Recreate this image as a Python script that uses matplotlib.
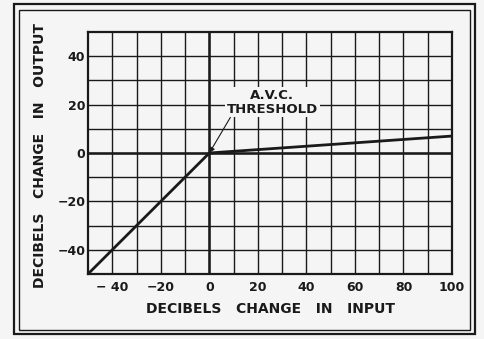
import matplotlib
matplotlib.use("Agg")
import matplotlib.pyplot as plt
from matplotlib.patches import Rectangle
import numpy as np

# Output response of an A.V.C. system (dB change in output vs dB change in input)
input_db = [-50, 0, 100]
output_db = [-50, 0, 7]

x_ticks = [-40, -20, 0, 20, 40, 60, 80, 100]
x_tick_labels = ["\u2212 40", "\u221220", "0", "20", "40", "60", "80", "100"]
y_ticks = [-40, -20, 0, 20, 40]
y_tick_labels = ["\u221240", "\u221220", "0", "20", "40"]

threshold_point = (0, 0)
threshold_text = "A.V.C.\nTHRESHOLD"

bg = "#f5f5f5"
ink = "#1a1a1a"
plt.rcParams["font.family"] = ["DejaVu Sans"]
plt.rcParams["font.weight"] = "bold"

fig = plt.figure(figsize=(4.85, 3.39), dpi=100, facecolor=bg)
ax = fig.add_axes([88 / 485, 1 - 274 / 339, 364 / 485, 242 / 339])
ax.set_facecolor(bg)

ax.set_xlim(-50, 100)
ax.set_ylim(-50, 50)

# grid every 10 dB
for gx in np.arange(-40, 100, 10):
    ax.axvline(gx, color=ink, lw=1.0, zorder=1)
for gy in np.arange(-40, 50, 10):
    ax.axhline(gy, color=ink, lw=1.0, zorder=1)
ax.axvline(0, color=ink, lw=1.8, zorder=2)
ax.axhline(0, color=ink, lw=1.8, zorder=2)

for s in ax.spines.values():
    s.set_color(ink)
    s.set_linewidth(1.6)

ax.plot(input_db, output_db, color=ink, lw=2.0, zorder=3, solid_capstyle="butt")

ax.annotate(threshold_text, xy=threshold_point, xytext=(26, 21),
            ha="center", va="center", fontsize=9.5, fontweight="bold",
            color=ink, linespacing=1.1,
            bbox=dict(boxstyle="square,pad=0.12", fc=bg, ec="none"),
            arrowprops=dict(arrowstyle="-|>", color=ink, lw=0.8,
                            mutation_scale=8, shrinkA=0, shrinkB=0,
                            relpos=(0.05, 0.0)),
            zorder=4)

ax.set_xticks(x_ticks)
ax.set_xticklabels(x_tick_labels)
ax.set_yticks(y_ticks)
ax.set_yticklabels(y_tick_labels)
ax.tick_params(length=0, labelsize=9, colors=ink, pad=5)
ax.tick_params(axis="y", pad=2)
for lbl in ax.get_xticklabels() + ax.get_yticklabels():
    lbl.set_fontweight("bold")

fig.text(270 / 485, 1 - 309 / 339, "DECIBELS   CHANGE   IN   INPUT",
         ha="center", va="center", fontsize=10, fontweight="bold", color=ink)
fig.text(40 / 485, 1 - 156 / 339, "DECIBELS   CHANGE   IN   OUTPUT",
         ha="center", va="center", rotation=90, fontsize=10,
         fontweight="bold", color=ink)

# double frame around the figure
fig.patches.append(Rectangle((14 / 485, 1 - 334 / 339), 461 / 485, 330 / 339,
                             transform=fig.transFigure, fill=False,
                             ec=ink, lw=1.6))
fig.patches.append(Rectangle((19 / 485, 1 - 330 / 339), 451 / 485, 320 / 339,
                             transform=fig.transFigure, fill=False,
                             ec=ink, lw=1.0))

fig.savefig("out.png", dpi=100, facecolor=bg)
